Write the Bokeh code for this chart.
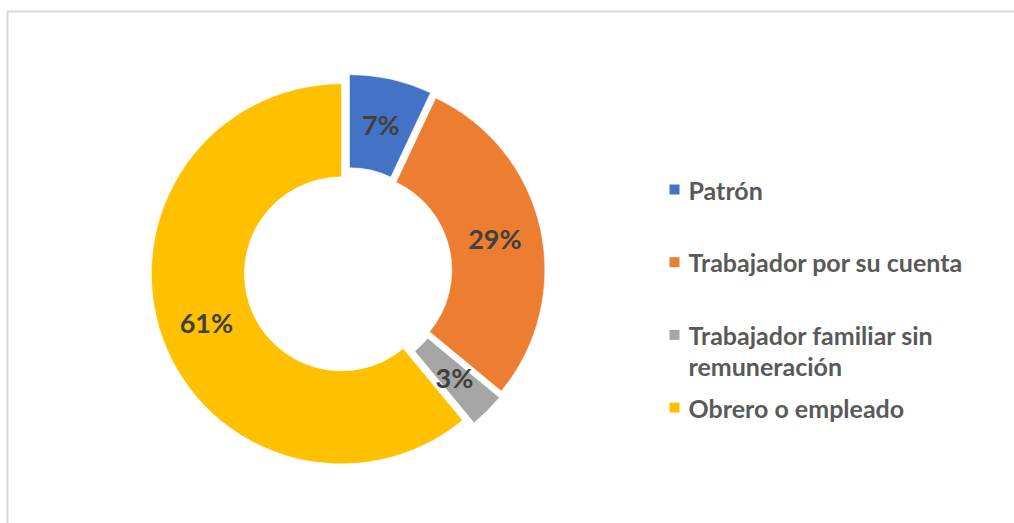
import math
import textwrap
from bokeh.plotting import figure
from bokeh.models import Range1d, ColumnDataSource
from bokeh.core.properties import value
from bokeh.embed import file_html
from bokeh.resources import INLINE

# ---- data ----
categories = ["Patrón", "Trabajador por su cuenta",
              "Trabajador familiar sin remuneración", "Obrero o empleado"]
percents = [7, 29, 3, 61]
colors = ["#4472C4", "#ED7D31", "#A5A5A5", "#FFC000"]

# ---- layout (pixels) ----
W, H = 1014, 523
cx, cy = 347.5, H - 271.0        # donut centre
R_OUT, R_IN = 190.0, 97.0
EXPLODE = 7.0
FONT = "Lato"

p = figure(width=W, height=H, output_backend="svg", toolbar_location=None,
           x_axis_type=None, y_axis_type=None, min_border=0,
           x_range=Range1d(0, W), y_range=Range1d(0, H))
p.grid.visible = False
p.outline_line_color = None
p.background_fill_color = "white"
p.border_fill_color = "white"

# chart-area border (left and top edges only visible)
p.multi_line(xs=[[7, 7, W + 5]], ys=[[-5, H - 11, H - 11]],
             line_color="#D9D9D9", line_width=2)

total = sum(percents)
xs, ys, starts, ends, lx, ly, labels = [], [], [], [], [], [], []
acc = 0.0
for v in percents:
    t0 = acc / total * 2 * math.pi
    acc += v
    t1 = acc / total * 2 * math.pi
    mid = (t0 + t1) / 2
    ox = cx + EXPLODE * math.sin(mid)
    oy = cy + EXPLODE * math.cos(mid)
    xs.append(ox)
    ys.append(oy)
    starts.append(math.pi / 2 - t1)
    ends.append(math.pi / 2 - t0)
    rm = (R_OUT + R_IN) / 2
    lx.append(ox + rm * math.sin(mid))
    ly.append(oy + rm * math.cos(mid))
    labels.append(f"{round(v / total * 100)}%")

src = ColumnDataSource(dict(x=xs, y=ys, s=starts, e=ends, c=colors))
p.annular_wedge(x="x", y="y", inner_radius=R_IN, outer_radius=R_OUT,
                start_angle="s", end_angle="e", fill_color="c",
                line_color="white", line_width=0.5, source=src)

p.text(x=lx, y=ly, text=labels, text_align="center", text_baseline="middle",
       text_font=value(FONT), text_font_style="bold", text_font_size="27px",
       text_color="#404040")

# ---- legend (manual) ----
LEG_X, LEG_Y0, LEG_STEP, LINE_H = 674, H - 189, 72.7, 31.0
mx, my, mc, tx, ty, tt = [], [], [], [], [], []
for i, (cat, col) in enumerate(zip(categories, colors)):
    y0 = LEG_Y0 - i * LEG_STEP
    mx.append(LEG_X)
    my.append(y0)
    mc.append(col)
    for j, line in enumerate(textwrap.wrap(cat, 24)):
        tx.append(LEG_X + 14)
        ty.append(y0 - j * LINE_H)
        tt.append(line)

p.rect(x=mx, y=my, width=10, height=10, fill_color=mc, line_color=None)
p.text(x=tx, y=ty, text=tt, text_align="left", text_baseline="middle",
       text_font=value(FONT), text_font_style="bold", text_font_size="25px",
       text_color="#595959")

open("out.html", "w").write(file_html(p, INLINE))
